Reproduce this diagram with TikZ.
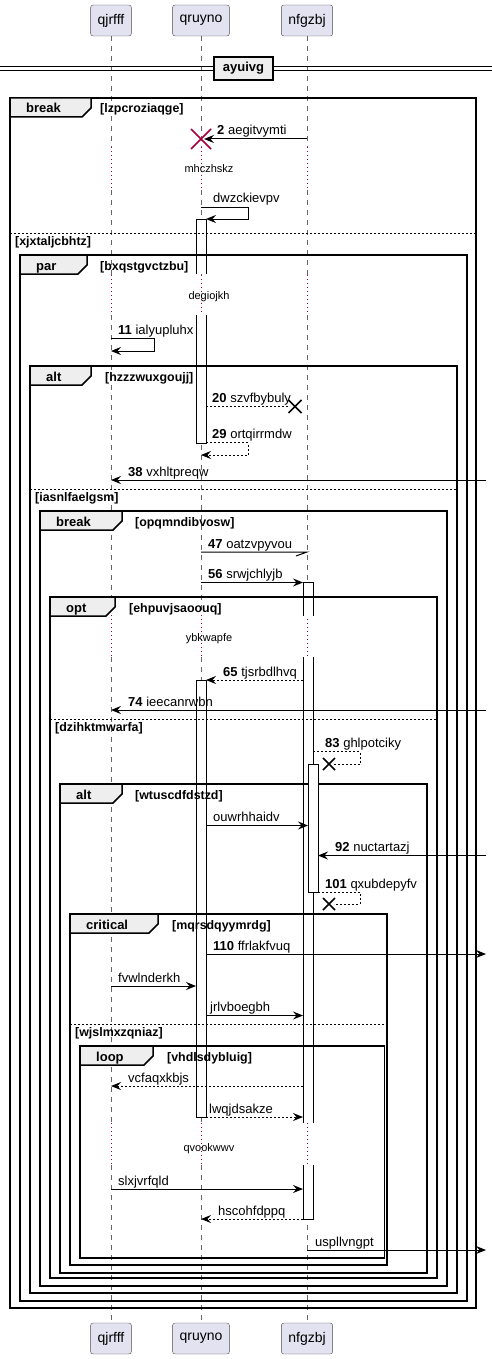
\documentclass[tikz,border=0pt]{standalone}
\usepackage{fontspec}
\setmainfont{Liberation Sans}
\usepackage{xcolor}
\usetikzlibrary{arrows.meta}
\definecolor{partfill}{HTML}{E2E2F0}
\definecolor{tabfill}{HTML}{EEEEEE}
\definecolor{delayred}{HTML}{A80036}
\tikzset{
  part/.style={draw=black!70,fill=partfill,rounded corners=2.5pt,minimum height=31pt,
    inner xsep=7pt,font=\fontsize{14}{16}\selectfont},
  life/.style={black!60,line width=0.8pt,dash pattern=on 5pt off 5pt},
  delay/.style={delayred,line width=1pt,dash pattern=on 1pt off 3pt},
  delaytxt/.style={anchor=base,inner sep=0pt,font=\fontsize{11}{13}\selectfont},
  msgtxt/.style={anchor=base west,inner sep=0pt,font=\fontsize{13}{15}\selectfont},
  guardtxt/.style={anchor=base west,inner sep=0pt,font=\fontsize{12.4}{14}\selectfont\bfseries},
  tabtxt/.style={anchor=base west,inner sep=0pt,font=\fontsize{13}{15}\selectfont\bfseries},
  framebox/.style={line width=1.5pt,black},
  sepline/.style={line width=0.8pt,dash pattern=on 2pt off 2pt},
  act/.style={line width=1pt,draw=black},
  msgline/.style={line width=1pt},
  arr/.style={msgline,-{Stealth[length=10pt,width=8pt,inset=3.5pt]}},
  dsh/.style={msgline,dash pattern=on 2pt off 2pt},
}
% frame: left, top, right, bottom, tab right, kind, guard x, guard
\newcommand\frm[8]{
  \draw[framebox] (#1,#2) rectangle (#3,#4);
  \filldraw[framebox,fill=tabfill] (#1,#2) -- (#5,#2) -- (#5,#2+10) -- (#5-9,#2+19)
    -- (#1,#2+19) -- cycle;
  \node[tabtxt] (t#2) at (#1+16,#2+15) {#6};
  \node[guardtxt] (g#2) at (#7,#2+15) {[#8]};
}
% else line: left, right, y, guard
\newcommand\elsebar[4]{
  \draw[sepline] (#1,#3) -- (#2,#3);
  \node[guardtxt] (e#3) at (#1+5,#3+12) {[#4]};
}
\newcommand\xmark[4]{
  \draw[#4] (#1-#3,#2-#3) -- (#1+#3,#2+#3) (#1-#3,#2+#3) -- (#1+#3,#2-#3);
}

\begin{document}
\begin{tikzpicture}[x=1pt,y=-1pt]
\useasboundingbox (0,0) rectangle (492,1359);

% lifelines, dotted where delayed
\foreach \x in {111,201,307}
{
  \foreach \a/\b in {36/147,190/275,315/615,657/1123,1165/1323}
    \draw[life] (\x,\a) -- (\x,\b);
  \foreach \a/\b in {147/190,275/315,615/657,1123/1165}
    \draw[delay] (\x,\a) -- (\x,\b);
}
\foreach \nm/\x/\t in {qj/111/qjrfff,qr/201/qruyno,nf/307/nfgzbj}
{
  \node[part] (\nm-top) at (\x,20.5) {\t};
  \node[part] (\nm-bot) at (\x,1338.5) {\t};
}
\coordinate (qrL) at (196,0);
\coordinate (qrR) at (206,0);
\coordinate (nfL) at (303,0);
\coordinate (nfR) at (313,0);
\coordinate (nfiL) at (308,0);
\coordinate (nfiR) at (318,0);
\coordinate (rim) at (486,0);

\node[delaytxt] (d1) at (209,173) {mhczhskz};
\node[delaytxt] (d2) at (209,299) {degiojkh};
\node[delaytxt] (d3) at (209,641) {ybkwapfe};
\node[delaytxt] (d4) at (209,1151) {qvookwwv};

% activation fills under the frames
\foreach \l/\t/\r/\b in {196/219/206/274,196/315/206/443,196/680/206/1117,
  303/582/313/616,303/657/313/1123,303/1165/313/1219,308/764/318/892}
  \fill[white] (\l,\t) rectangle (\r,\b);

% divider
\draw[line width=1.2pt] (0,66.5) -- (492,66.5) (0,70.5) -- (492,70.5);
\node[draw,line width=1.5pt,fill=tabfill,minimum width=59pt,minimum height=23pt,
  font=\fontsize{13}{15}\selectfont\bfseries] (div) at (243.5,68.5) {ayuivg};

\frm{10}{98}{476}{1308}{91}{break}{100}{lzpcroziaqge}
\elsebar{10}{476}{233}{xjxtaljcbhtz}
\frm{20}{255}{467}{1301}{87}{par}{100}{bxqstgvctzbu}
\frm{30}{366}{457}{1293}{91}{alt}{105}{hzzzwuxgoujj}
\elsebar{30}{457}{489}{iasnlfaelgsm}
\frm{40}{511}{447}{1286}{122}{break}{135}{opqmndibvosw}
\frm{50}{597}{437}{1278}{115}{opt}{129}{ehpuvjsaoouq}
\elsebar{50}{437}{719}{dzihktmwarfa}
\frm{60}{784}{427}{1273}{122}{alt}{135}{wtuscdfdstzd}
\frm{70}{914}{387}{1265}{158}{critical}{172}{mqrsdqyymrdg}
\elsebar{70}{387}{1024}{wjslmxzqniaz}
\frm{80}{1046}{384.5}{1258}{153}{loop}{167}{vhdlsdybluig}

% activations
\draw[act] (196,274) -- (196,219) -- (206,219) -- (206,274);
\draw[act] (196,315) -- (196,443) -- (206,443) -- (206,315);
\draw[act] (196,680) rectangle (206,1117);
\draw[act] (303,616) -- (303,582) -- (313,582) -- (313,616);
\draw[act] (303,657) -- (303,1123) (313,657) -- (313,1123);
\draw[act] (303,1165) -- (303,1219) -- (313,1219) -- (313,1165);
\filldraw[act,fill=white] (308,764) rectangle (318,892);

% messages
\draw[arr,shorten >=3pt] (nf-top |- 0,139) -- (qr-top |- 0,139);
\xmark{201}{139}{10}{delayred,line width=1.5pt}
\node[msgtxt] (m2) at (217,135) {\textbf{2} aegitvymti};

\draw[arr] (qr-top |- 0,207) -| (248,219) -- (qrR |- 0,219);
\node[msgtxt] (m3) at (213,203) {dwzckievpv};

\draw[arr] (qj-top |- 0,338) -| (154,351) -- (qj-top |- 0,351);
\node[msgtxt] (m11) at (118,334) {\textbf{11} ialyupluhx};

\draw[dsh] (qrR |- 0,406.5) -- (290,406.5);
\xmark{295}{406.5}{6.5}{line width=1.5pt}
\node[msgtxt] (m20) at (212,402) {\textbf{20} szvfbybuly};

\draw[arr,dsh] (qrR |- 0,442.5) -| (248,455) -- (qr-top |- 0,455);
\node[msgtxt] (m29) at (212,438) {\textbf{29} ortqirrmdw};

\draw[arr] (rim |- 0,480) -- (qj-top |- 0,480);
\node[msgtxt] (m38) at (128,476) {\textbf{38} vxhltpreqw};

\draw[msgline] (qr-top |- 0,552) -- (nf-top |- 0,552) -- ++(-11,4);
\node[msgtxt] (m47) at (208,548) {\textbf{47} oatzvpyvou};

\draw[arr] (qr-top |- 0,582.5) -- (nfL |- 0,582.5);
\node[msgtxt] (m56) at (208,578.5) {\textbf{56} srwjchlyjb};

\draw[arr,dsh] (nfL |- 0,680) -- (qrR |- 0,680);
\node[msgtxt] (m65) at (223,676) {\textbf{65} tjsrbdlhvq};

\draw[arr] (rim |- 0,710) -- (qj-top |- 0,710);
\node[msgtxt] (m74) at (128,706) {\textbf{74} ieecanrwbn};

\draw[dsh] (nfR |- 0,751.5) -| (360,764) -- (334,764);
\xmark{329}{764}{6}{line width=1.5pt}
\node[msgtxt] (m83) at (325,747.5) {\textbf{83} ghlpotciky};

\draw[arr] (qrR |- 0,825.5) -- (nfiL |- 0,825.5);
\node[msgtxt] (m84) at (213,821.5) {ouwrhhaidv};

\draw[arr] (rim |- 0,855.5) -- (nfiR |- 0,855.5);
\node[msgtxt] (m92) at (335,851.5) {\textbf{92} nuctartazj};

\draw[dsh] (nfiR |- 0,892) -| (360,904) -- (334,904);
\xmark{329}{904}{6}{line width=1.5pt}
\node[msgtxt] (m101) at (325,888) {\textbf{101} qxubdepyfv};

\draw[arr] (qrR |- 0,954) -- (rim |- 0,954);
\node[msgtxt] (m110) at (213,950) {\textbf{110} ffrlakfvuq};

\draw[arr] (qj-top |- 0,986) -- (qrL |- 0,986);
\node[msgtxt] (m111) at (118,982) {fvwlnderkh};

\draw[arr] (qrR |- 0,1015.5) -- (nfL |- 0,1015.5);
\node[msgtxt] (m112) at (210,1011.5) {jrlvboegbh};

\draw[arr,dsh] (nfL |- 0,1086) -- (qj-top |- 0,1086);
\node[msgtxt] (m113) at (128,1082) {vcfaqxkbjs};

\draw[arr,dsh] (qrR |- 0,1117) -- (nfL |- 0,1117);
\node[msgtxt] (m114) at (209,1113) {lwqjdsakze};

\draw[arr] (qj-top |- 0,1189) -- (nfL |- 0,1189);
\node[msgtxt] (m115) at (118,1185) {slxjvrfqld};

\draw[arr,dsh] (nfL |- 0,1219) -- (qr-top |- 0,1219);
\node[msgtxt] (m116) at (218,1215) {hscohfdppq};

\draw[arr] (nf-top |- 0,1250) -- (rim |- 0,1250);
\node[msgtxt] (m117) at (315,1246) {uspllvngpt};
\end{tikzpicture}
\end{document}
